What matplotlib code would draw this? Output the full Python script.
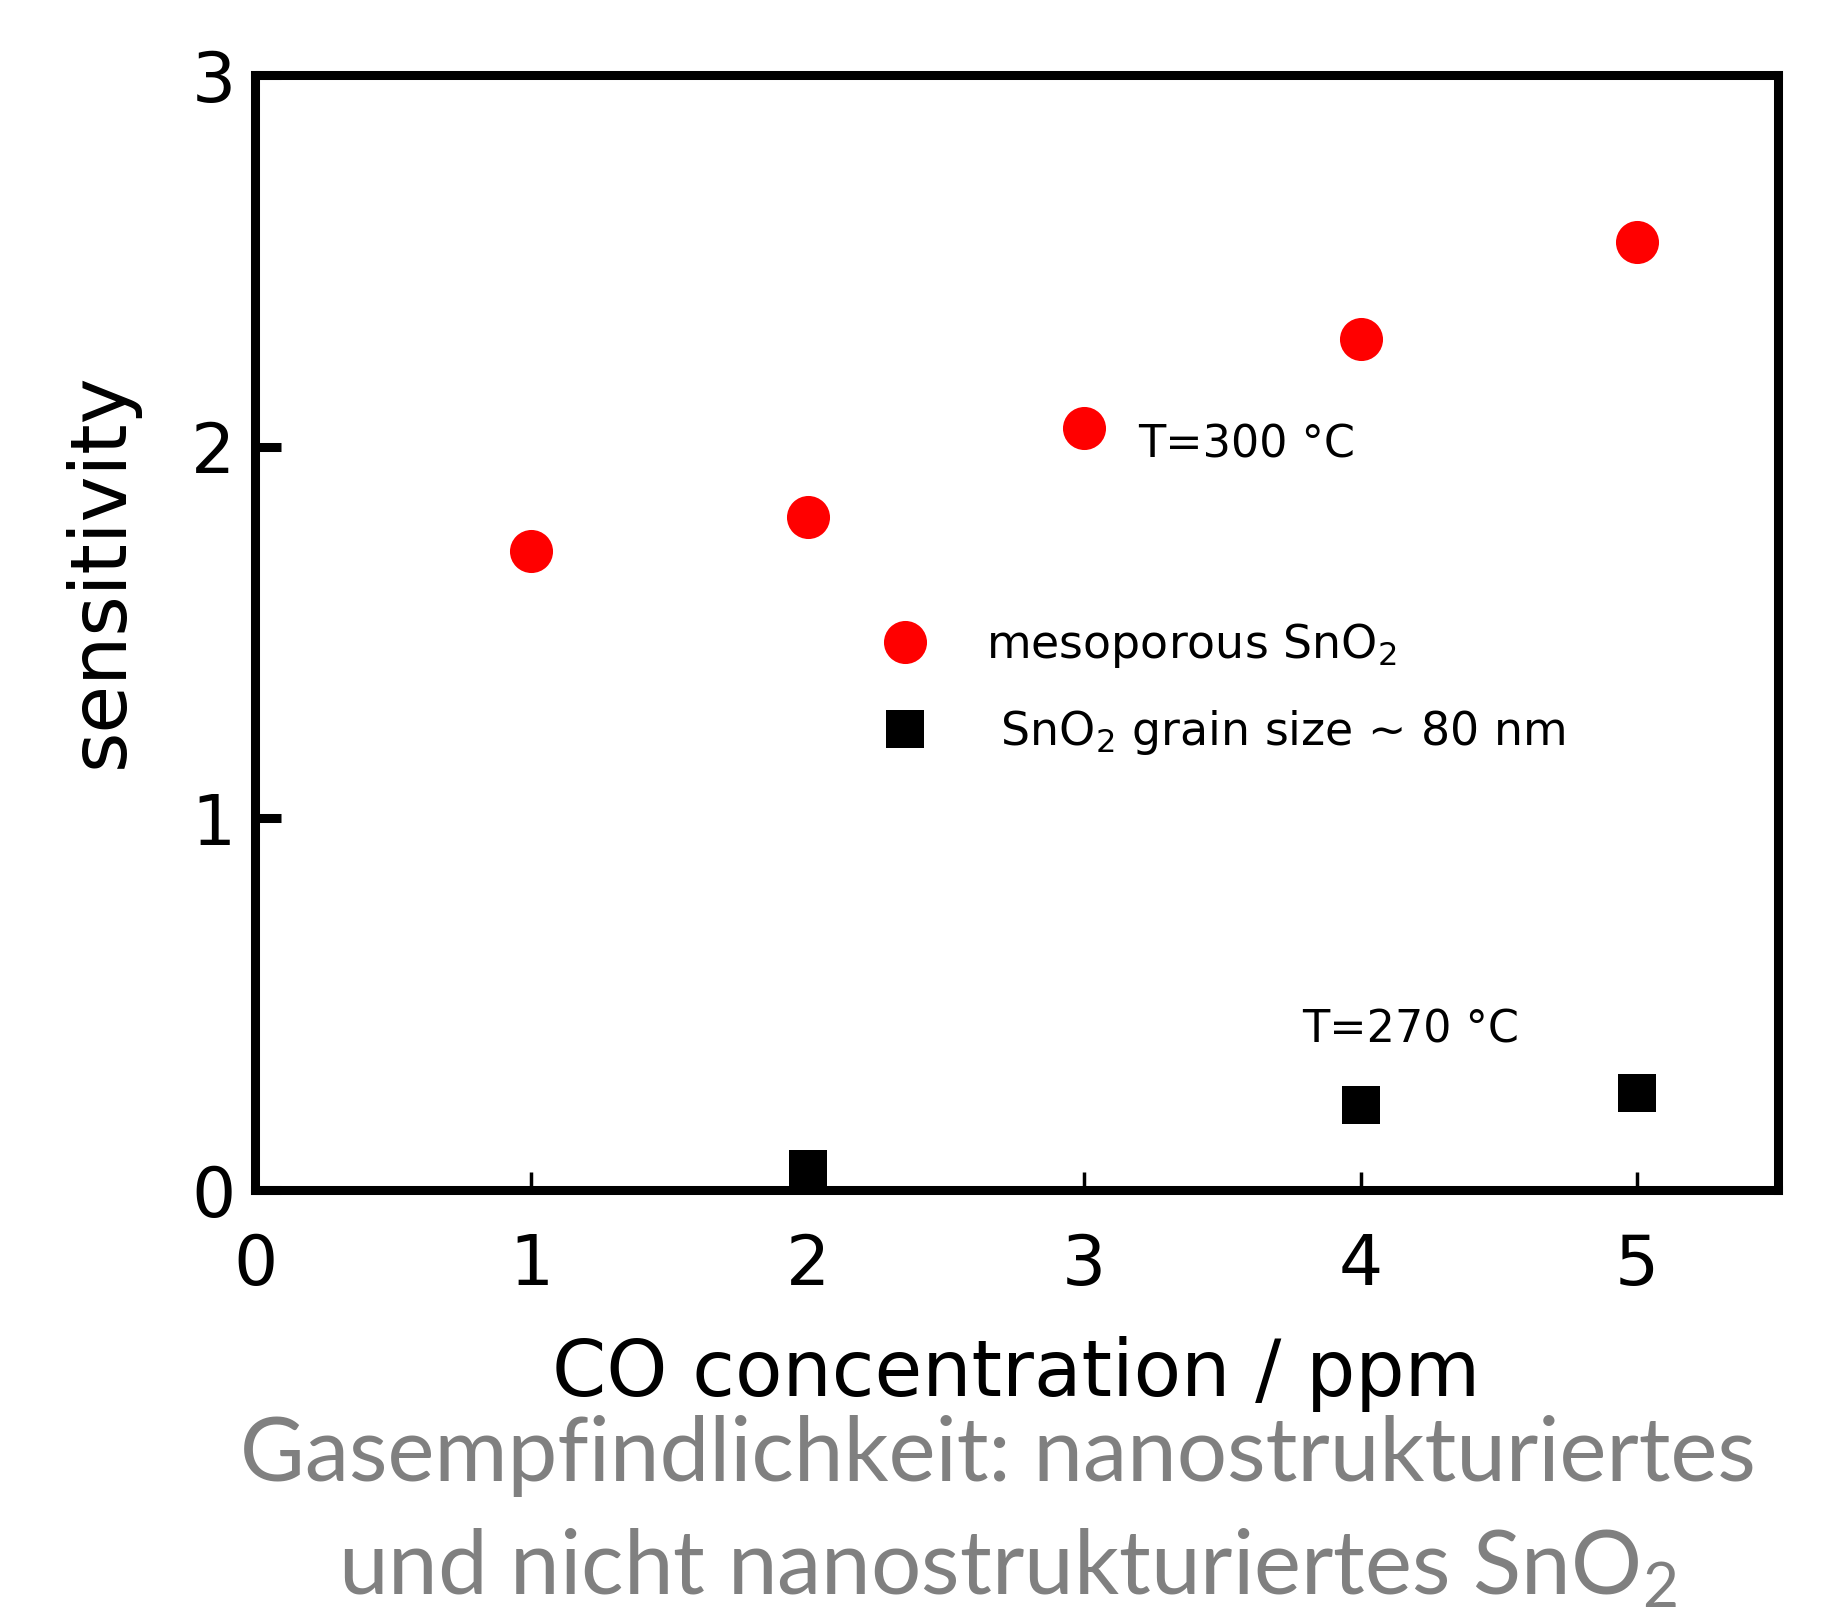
import matplotlib
matplotlib.use("Agg")
import matplotlib.pyplot as plt
from matplotlib import font_manager as fm
from matplotlib.lines import Line2D

# ---- data ----
meso_x = [1, 2, 3, 4, 5]
meso_y = [1.72, 1.81, 2.05, 2.29, 2.55]
grain_x = [2, 4, 5]
grain_y = [0.057, 0.23, 0.26]
xticks = [0, 1, 2, 3, 4, 5]
yticks = [0, 1, 2, 3]
label_meso = "mesoporous SnO$\\mathregular{_2}$"
label_grain = " SnO$\\mathregular{_2}$ grain size ~ 80 nm"
ann_300 = "T=300 °C"
ann_270 = "T=270 °C"
xlabel = "CO concentration / ppm"
ylabel = "sensitivity"
caption1 = "Gasempfindlichkeit: nanostrukturiertes"
caption2 = "und nicht nanostrukturiertes SnO$\\mathregular{_2}$"

avail = {f.name for f in fm.fontManager.ttflist}
cap_font = next((f for f in ["Lato", "Open Sans"] if f in avail), "DejaVu Sans")

plt.rcParams['font.family'] = ['DejaVu Sans']

fig = plt.figure(figsize=(18.36, 16.18), dpi=100)
ax = fig.add_axes([0.1389, 0.2645, 0.9684 - 0.1389, 0.9536 - 0.2645])

ax.plot(meso_x, meso_y, 'o', color='#ff0000', markersize=31, markeredgewidth=0,
        clip_on=False, zorder=3)
ax.plot(grain_x, grain_y, 's', color='black', markersize=27, markeredgewidth=0,
        clip_on=False, zorder=3)

ax.set_xlim(0, 5.51)
ax.set_ylim(0, 3)
ax.set_xticks(xticks)
ax.set_yticks(yticks)
ax.set_xticklabels([str(v) for v in xticks])
ax.set_yticklabels([str(v) for v in yticks])

for s in ax.spines.values():
    s.set_linewidth(6.5)
ax.tick_params(axis='x', direction='in', length=13, width=2.5, pad=30, labelsize=50)
ax.tick_params(axis='y', direction='in', length=19, width=6.5, pad=14, labelsize=50)

ax.set_xlabel(xlabel, fontsize=56)
ax.xaxis.set_label_coords(0.50, -0.1305)
ax.set_ylabel(ylabel, fontsize=56)
ax.yaxis.set_label_coords(-0.076, 0.556)

ax.text(3.195, 2.005, ann_300, fontsize=32, ha='left', va='center')
ax.text(3.79, 0.43, ann_270, fontsize=32, ha='left', va='center')

handles = [Line2D([], [], marker='o', color='#ff0000', linestyle='none', markersize=31, markeredgewidth=0),
           Line2D([], [], marker='s', color='black', linestyle='none', markersize=27, markeredgewidth=0)]
ax.legend(handles, [label_meso, label_grain], loc='upper left', bbox_to_anchor=(0.412, 0.51),
          frameon=False, fontsize=33, handlelength=1.0, handletextpad=1.25,
          labelspacing=0.82, borderpad=0, borderaxespad=0)

fig.text(0.5436, 1 - 1481 / 1618, caption1, fontsize=64, color='#808080',
         ha='center', va='baseline', family=[cap_font, 'DejaVu Sans'])
fig.text(0.549, 1 - 1595 / 1618, caption2, fontsize=64, color='#808080',
         ha='center', va='baseline', family=[cap_font, 'DejaVu Sans'])

fig.savefig("out.png", dpi=100)
